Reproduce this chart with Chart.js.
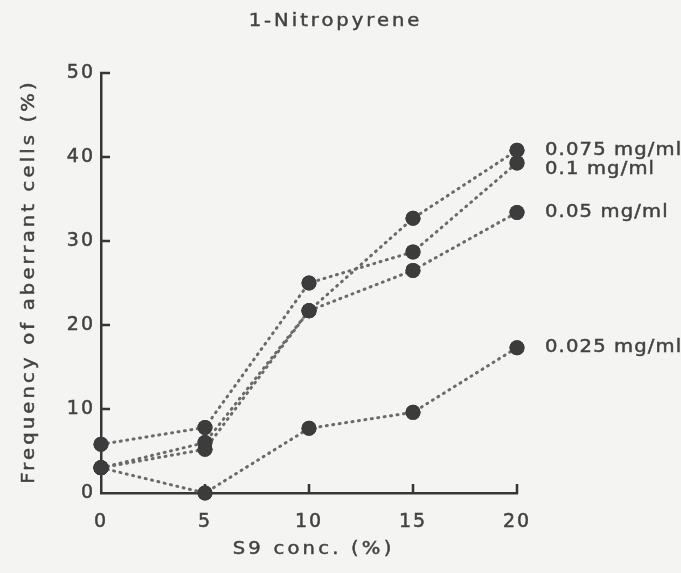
<!DOCTYPE html>
<html>
<head>
<meta charset="utf-8">
<script src="https://cdn.jsdelivr.net/npm/chart.js@4/dist/chart.umd.min.js"></script>
<style>
  html, body { margin: 0; padding: 0; background: #f4f4f2; }
  #wrap { width: 681px; height: 573px; }
</style>
</head>
<body>
<div id="wrap"><canvas id="c" width="681" height="573"></canvas></div>
<script>
// ---- data ----
const chartTitle = '1-Nitropyrene';
const s9Conc = [0, 5, 10, 15, 20];
const seriesNames = ['0.1 mg/ml', '0.075 mg/ml', '0.05 mg/ml', '0.025 mg/ml'];
const dose010 = [5.8, 7.8, 25.0, 28.7, 39.3];
const dose0075 = [3.0, 6.0, 21.7, 32.7, 40.8];
const dose005 = [3.0, 5.2, 21.7, 26.5, 33.4];
const dose0025 = [3.0, 0.0, 7.7, 9.6, 17.3];
const xTickValues = [0, 5, 10, 15, 20];
const yTickValues = [0, 10, 20, 30, 40, 50];
const xTitle = 'S9 conc. (%)';
const yTitle = 'Frequency of aberrant cells (%)';

const seriesValues = [dose010, dose0075, dose005, dose0025];
const labelNudge = [7, 0, 0, 0];

const TEXT = '#424242';
const AXIS = '#363636';
const FONT = 'DejaVu Sans';
const WIDEN = 1.15;

const bgPlugin = {
  id: 'bg',
  beforeDraw(chart) {
    const ctx = chart.ctx;
    ctx.save();
    ctx.fillStyle = '#f4f4f2';
    ctx.fillRect(0, 0, chart.width, chart.height);
    ctx.restore();
    ctx.letterSpacing = '2px';
  }
};

function wideText(ctx, text, x, y, spacing, rot) {
  ctx.save();
  ctx.letterSpacing = spacing + 'px';
  ctx.translate(x, y);
  if (rot) ctx.rotate(rot);
  ctx.scale(WIDEN, 1);
  const dx = ctx.textAlign === 'center' ? spacing / 2 : 0;
  ctx.fillText(text, dx, 0);
  ctx.strokeText(text, dx, 0);
  ctx.restore();
}

const decoPlugin = {
  id: 'deco',
  afterDraw(chart) {
    const ctx = chart.ctx;
    const xs = chart.scales.x, ys = chart.scales.y;
    ctx.save();
    // inward ticks
    ctx.strokeStyle = AXIS;
    ctx.lineWidth = 2.5;
    ctx.beginPath();
    yTickValues.forEach(v => {
      if (v === 0) return;
      const y = ys.getPixelForValue(v);
      ctx.moveTo(xs.left - 1, y);
      ctx.lineTo(xs.left + 9, y);
    });
    xTickValues.forEach(v => {
      if (v === 0) return;
      const x = xs.getPixelForValue(v);
      ctx.moveTo(x, ys.bottom + 1);
      ctx.lineTo(x, ys.bottom - 9);
    });
    ctx.stroke();
    // titles
    ctx.fillStyle = TEXT;
    ctx.strokeStyle = TEXT;
    ctx.lineWidth = 0.45;
    ctx.font = '17px "' + FONT + '"';
    ctx.textAlign = 'center';
    ctx.textBaseline = 'middle';
    wideText(ctx, chartTitle, 334, 22, 2.6, 0);
    wideText(ctx, xTitle, (xs.left + xs.right) / 2 + 3, 550, 2.8, 0);
    wideText(ctx, yTitle, 30, (ys.top + ys.bottom) / 2, 2.75, -Math.PI / 2);
    // series labels at right
    ctx.textAlign = 'left';
    chart.data.datasets.forEach((ds, i) => {
      const last = ds.data[ds.data.length - 1];
      const y = ys.getPixelForValue(last.y) + labelNudge[i];
      wideText(ctx, ds.label, xs.right + 28, y, 1.0, 0);
    });
    // redraw points on top
    chart.data.datasets.forEach((ds, i) => {
      const meta = chart.getDatasetMeta(i);
      meta.data.forEach(pt => pt.draw(ctx));
    });
    ctx.restore();
  }
};

const datasets = seriesNames.map((name, i) => ({
  label: name,
  data: s9Conc.map((x, j) => ({ x: x, y: seriesValues[i][j] })),
  borderColor: '#6a6a6a',
  borderWidth: 3,
  borderDash: [1, 5.5],
  borderCapStyle: 'round',
  pointRadius: 7.5,
  pointBackgroundColor: '#3c3c3c',
  pointBorderColor: '#3c3c3c',
  pointBorderWidth: 0,
  fill: false,
  tension: 0,
  clip: false
}));

const tickStyle = { color: TEXT, font: { family: FONT, size: 19 }, textStrokeColor: TEXT, textStrokeWidth: 0.5 };

new Chart(document.getElementById('c'), {
  type: 'line',
  data: { datasets: datasets },
  options: {
    responsive: false,
    animation: false,
    events: [],
    layout: { padding: { top: 73, right: 164, left: 0, bottom: 0 } },
    plugins: { legend: { display: false }, tooltip: { enabled: false }, title: { display: false } },
    scales: {
      x: {
        type: 'linear', min: 0, max: 20,
        afterBuildTicks: s => { s.ticks = xTickValues.map(v => ({ value: v })); },
        afterFit: s => { s.height = 80; },
        grid: { display: true, drawOnChartArea: false, drawTicks: false, color: 'rgba(0,0,0,0)' },
        border: { display: true, color: AXIS, width: 2.5 },
        ticks: Object.assign({ padding: 18, maxRotation: 0 }, tickStyle),
        title: { display: false, text: xTitle }
      },
      y: {
        type: 'linear', min: 0, max: 50,
        afterBuildTicks: s => { s.ticks = yTickValues.map(v => ({ value: v })); },
        afterFit: s => { s.width = 101; },
        grid: { display: true, drawOnChartArea: false, drawTicks: false, color: 'rgba(0,0,0,0)' },
        border: { display: true, color: AXIS, width: 2.5 },
        ticks: Object.assign({ padding: 6 }, tickStyle),
        title: { display: false, text: yTitle }
      }
    }
  },
  plugins: [bgPlugin, decoPlugin]
});
</script>
</body>
</html>
